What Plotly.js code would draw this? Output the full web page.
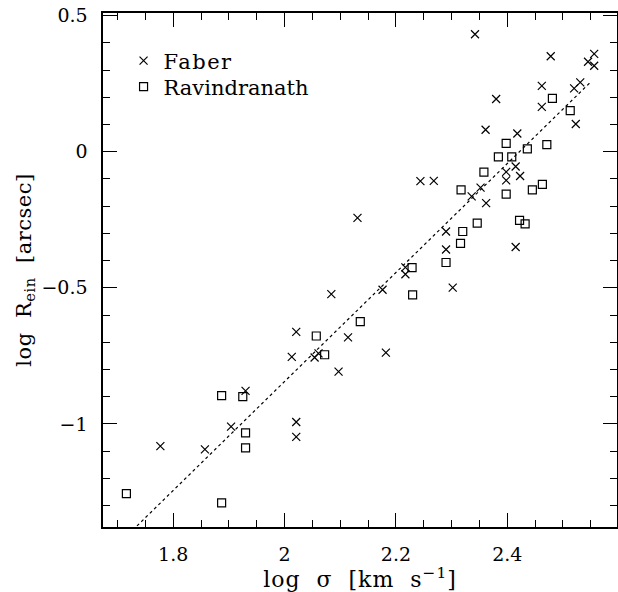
<!DOCTYPE html>
<html>
<head>
<meta charset="utf-8">
<script src="https://cdn.plot.ly/plotly-3.0.1.min.js"></script>
<style>
html,body{margin:0;padding:0;background:#fff;}
#chart{width:618px;height:592px;}
.legendtext{letter-spacing:1.5px;}
.g-xtitle text{letter-spacing:1px;}
.g-ytitle text{letter-spacing:0.5px;}
</style>
</head>
<body>
<div id="chart"></div>
<script>
// Faber sample: log sigma, log R_ein
const faberLogSigma = [1.777, 1.857, 1.904, 1.930, 2.013, 2.021, 2.021, 2.021, 2.054, 2.061,
  2.084, 2.097, 2.114, 2.131, 2.176, 2.182, 2.217, 2.217, 2.244, 2.268,
  2.290, 2.290, 2.302, 2.336, 2.342, 2.352, 2.362, 2.361, 2.380, 2.398,
  2.398, 2.415, 2.418, 2.423, 2.415, 2.462, 2.462, 2.478, 2.520, 2.531,
  2.523, 2.545, 2.556, 2.556];
const faberLogR = [-1.082, -1.094, -1.010, -0.879, -0.754, -0.662, -0.993, -1.048, -0.756, -0.741,
  -0.523, -0.808, -0.682, -0.243, -0.507, -0.738, -0.425, -0.450, -0.108, -0.107,
  -0.293, -0.359, -0.499, -0.164, 0.432, -0.132, -0.189, 0.081, 0.194, -0.074,
  -0.105, -0.054, 0.067, -0.089, -0.350, 0.242, 0.165, 0.351, 0.233, 0.255,
  0.102, 0.331, 0.360, 0.316];

// Ravindranath sample
const raviLogSigma = [1.716, 1.887, 1.887, 1.925, 1.930, 1.930, 2.057, 2.072, 2.136, 2.229,
  2.230, 2.290, 2.316, 2.317, 2.320, 2.346, 2.358, 2.384, 2.398, 2.398,
  2.408, 2.422, 2.432, 2.436, 2.445, 2.463, 2.471, 2.481, 2.513];
const raviLogR = [-1.256, -0.896, -1.290, -0.900, -1.033, -1.088, -0.677, -0.746, -0.624, -0.426,
  -0.526, -0.407, -0.337, -0.140, -0.293, -0.262, -0.075, -0.019, -0.156, 0.031,
  -0.019, -0.252, -0.265, 0.011, -0.140, -0.120, 0.026, 0.196, 0.151];

// Fitted relation (dotted line) endpoints
const fitLogSigma = [1.735, 2.551];
const fitLogR = [-1.375, 0.259];

const xTickVals = [1.8, 2.0, 2.2, 2.4];
const xTickText = ['1.8', '2', '2.2', '2.4'];
const yTickVals = [-1, -0.5, 0, 0.5];
const yTickText = ['\u22121', '\u22120.5', '0', '0.5'];

const FONT = 'DejaVu Serif, Liberation Serif, serif';
const SP = '\u00a0\u00a0';

const traces = [
  {
    x: faberLogSigma, y: faberLogR, mode: 'markers', type: 'scatter', name: 'Faber', legend: 'legend',
    marker: {symbol: 'x-thin-open', size: 8, color: '#000', line: {width: 1.2, color: '#000'}}
  },
  {
    x: raviLogSigma, y: raviLogR, mode: 'markers', type: 'scatter', name: 'Ravindranath', legend: 'legend2',
    marker: {symbol: 'square-open', size: 8, color: '#000', line: {width: 1.2, color: '#000'}}
  },
  {
    x: fitLogSigma, y: fitLogR, mode: 'lines', type: 'scatter', showlegend: false,
    line: {color: '#000', width: 1.2, dash: 'dot'}, hoverinfo: 'skip'
  }
];

const axisCommon = {
  showgrid: false, zeroline: false, showline: true, linecolor: '#000', linewidth: 1.6,
  mirror: 'allticks', ticks: 'inside', ticklen: 14, tickwidth: 1, tickcolor: '#000',
  tickfont: {family: FONT, size: 19, color: '#000'}
};

const legendCommon = {xanchor: 'left', yanchor: 'middle', bgcolor: 'rgba(0,0,0,0)',
  font: {family: FONT, size: 21, color: '#000'}};

const layout = {
  width: 618, height: 592,
  margin: {l: 103, r: 1, t: 13, b: 65},
  paper_bgcolor: '#fff', plot_bgcolor: '#fff',
  font: {family: FONT, color: '#000'},
  showlegend: true,
  legend: Object.assign({}, legendCommon, {x: 0.04, y: 1 - (61 - 13) / 514}),
  legend2: Object.assign({}, legendCommon, {x: 0.04, y: 1 - (87 - 13) / 514}),
  xaxis: Object.assign({}, axisCommon, {
    range: [1.674, 2.597], tickmode: 'array', tickvals: xTickVals, ticktext: xTickText,
    ticklabelstandoff: 10,
    minor: {dtick: 0.05, ticks: 'inside', ticklen: 7, tickcolor: '#000', tickwidth: 1, showgrid: false},
    title: {text: 'log' + SP + '\u03c3' + SP + '[km' + SP + 's<sup>\u22121</sup>]', font: {family: FONT, size: 22}, standoff: 5}
  }),
  yaxis: Object.assign({}, axisCommon, {
    range: [-1.379, 0.51], tickmode: 'array', tickvals: yTickVals, ticktext: yTickText,
    ticklabelstandoff: 10,
    minor: {dtick: 0.1, ticks: 'inside', ticklen: 7, tickcolor: '#000', tickwidth: 1, showgrid: false},
    title: {text: 'log' + SP + 'R<sub>ein</sub>' + SP + '[arcsec]', font: {family: FONT, size: 21}, standoff: 4}
  })
};

Plotly.newPlot('chart', traces, layout, {staticPlot: true, displayModeBar: false});
</script>
</body>
</html>
